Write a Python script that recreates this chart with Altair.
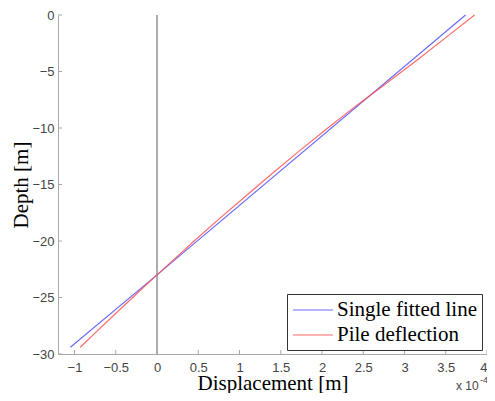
import altair as alt
import pandas as pd

# Displacement values in units of 1e-4 m, depth in m
blue_depth = [-29.4, -23.0, 0.0]
blue_disp = [-1.05, 0.0, 3.74]

red_depth = [-29.4, -28, -26, -24, -23, -22, -20, -18, -16, -14, -12, -10, -8, -6, -4, -2, 0]
red_disp = [-0.93, -0.73, -0.44, -0.15, 0.0, 0.15, 0.45, 0.76, 1.08, 1.40, 1.73, 2.07, 2.42, 2.79, 3.15, 3.50, 3.85]

series_names = ["Single fitted line", "Pile deflection"]
series_colors = ["#5050ff", "#ff5050"]

x_ticks = [-1, -0.5, 0, 0.5, 1, 1.5, 2, 2.5, 3, 3.5, 4]
y_ticks = [-30, -25, -20, -15, -10, -5, 0]

W, H = 429, 339
axis_gray = "#a8a8a8"

df = pd.concat([
    pd.DataFrame({"disp": blue_disp, "depth": blue_depth, "series": series_names[0]}),
    pd.DataFrame({"disp": red_disp, "depth": red_depth, "series": series_names[1]}),
])

xscale = alt.Scale(domain=[-1.2, 4], nice=False, zero=False)
yscale = alt.Scale(domain=[-30, 0], nice=False, zero=False)

xaxis = alt.Axis(values=x_ticks, format="~g", ticks=False, tickSize=0, grid=False, domainColor=axis_gray,
                 labelFont="Liberation Sans", labelFontSize=13, labelColor="#444", labelPadding=7,
                 labelOverlap=False,
                 title="Displacement [m]", titleFont="Liberation Serif", titleFontSize=21,
                 titleFontWeight="normal", titleColor="black", titleY=35, titleBaseline="alphabetic")
yaxis = alt.Axis(values=y_ticks, format="~g", ticks=False, tickSize=0, grid=False, domainColor=axis_gray,
                 labelFont="Liberation Sans", labelFontSize=13, labelColor="#444", labelPadding=4,
                 title="Depth [m]", titleFont="Liberation Serif", titleFontSize=21,
                 titleFontWeight="normal", titleColor="black", titleX=-31, titleY=H / 2,
                 titleAngle=-90, titleBaseline="alphabetic")

lines = alt.Chart(df).mark_line(strokeWidth=1.2, opacity=0.85).encode(
    x=alt.X("disp:Q", scale=xscale, axis=xaxis),
    y=alt.Y("depth:Q", scale=yscale, axis=yaxis),
    color=alt.Color("series:N", scale=alt.Scale(domain=series_names, range=series_colors),
                    sort=series_names,
                    legend=alt.Legend(title=None, orient="none", legendX=229, legendY=279,
                                      direction="vertical", strokeColor="#333", fillColor="white",
                                      padding=5, symbolType="M-2,0L2,0", symbolSize=400,
                                      symbolOffset=10, labelOffset=13,
                                      symbolStrokeWidth=1.2, labelFont="Liberation Serif",
                                      labelFontSize=21, labelColor="black",
                                      rowPadding=4, labelLimit=300)),
    order="depth:Q",
)

zero_df = pd.DataFrame({"x": [0.0], "y": [-30.0], "y2": [0.0]})
zero_line = alt.Chart(zero_df).mark_rule(color="#777", strokeWidth=1.2).encode(
    x=alt.X("x:Q", scale=xscale), y=alt.Y("y:Q", scale=yscale), y2="y2:Q"
)

xt_df = pd.DataFrame({"t": x_ticks})
xt = alt.Chart(xt_df).mark_rule(color=axis_gray, strokeWidth=1).encode(
    x=alt.X("t:Q", scale=xscale), y=alt.value(H), y2=alt.value(H - 4)
)
yt_df = pd.DataFrame({"t": y_ticks})
yt = alt.Chart(yt_df).mark_rule(color=axis_gray, strokeWidth=1).encode(
    y=alt.Y("t:Q", scale=yscale), x=alt.value(0), x2=alt.value(4)
)

exp_df = pd.DataFrame({"t": ["x 10"]})
exp_base = alt.Chart(exp_df).mark_text(align="left", baseline="alphabetic", font="Liberation Sans",
                                       fontSize=12, color="#444").encode(
    x=alt.value(398), y=alt.value(375), text="t:N")
exp_df2 = pd.DataFrame({"t": ["-4"]})
exp_sup = alt.Chart(exp_df2).mark_text(align="left", baseline="alphabetic", font="Liberation Sans",
                                       fontSize=9, color="#444").encode(
    x=alt.value(422), y=alt.value(368), text="t:N")

chart = alt.layer(zero_line, xt, yt, lines, exp_base, exp_sup).properties(
    width=W, height=H,
    autosize=alt.AutoSizeParams(type="none"),
    padding={"left": 50, "top": 7, "right": 0, "bottom": 39},
).configure_view(stroke=None).configure_axis(domainWidth=1)

chart.save("out.html", embed_options={"renderer": "svg", "actions": False})
